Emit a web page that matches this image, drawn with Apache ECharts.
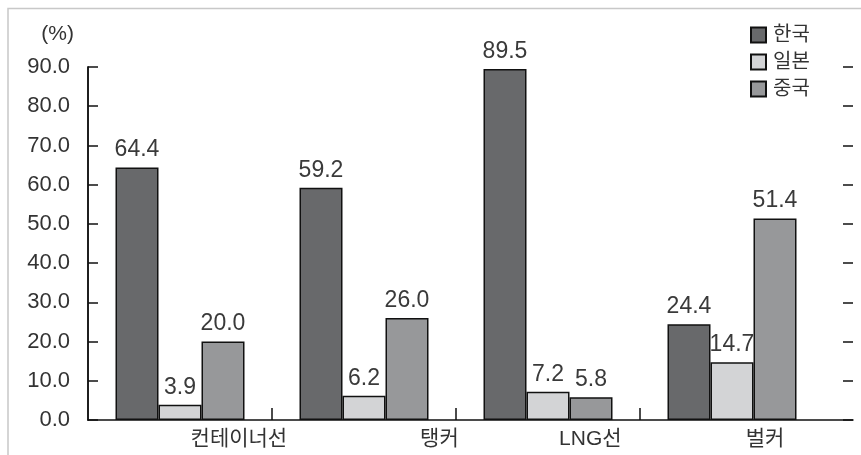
<!DOCTYPE html>
<html>
<head>
<meta charset="utf-8">
<script src="https://cdn.jsdelivr.net/npm/echarts@6/dist/echarts.min.js"></script>
<style>
  html, body { margin: 0; padding: 0; background: #fff; }
  #chart { width: 861px; height: 455px; }
</style>
</head>
<body>
<div id="chart"></div>
<script>
// 선종별 점유율 (%)
var categories = ["컨테이너선", "탱커", "LNG선", "벌커"];
var korea = [64.4, 59.2, 89.5, 24.4];
var japan = [3.9, 6.2, 7.2, 14.7];
var china = [20.0, 26.0, 5.8, 51.4];
var seriesNames = ["한국", "일본", "중국"];

// layout: category names sit right of the group centre (in category widths)
var labelShift = [0.32, 0.41, 0.23, 0.18];
var CAT_W = 184;                 // px per category
var AXIS_W = 853 - 88;           // baseline length incl. the strip on the right

var FONT = "'Liberation Sans', 'Noto Sans CJK KR', sans-serif";
var axisBlack = { color: "#111", width: 1.5 };

function barSeries(name, data, color) {
  return {
    name: name,
    type: "bar",
    xAxisIndex: 0,
    yAxisIndex: 0,
    barWidth: 43,
    barGap: "0%",
    data: data,
    itemStyle: {
      color: color,
      borderColor: "#111",
      borderWidth: 1.5
    },
    label: {
      show: true,
      position: "top",
      distance: 6,
      color: "#3a3a3a",
      fontSize: 23,
      fontFamily: FONT,
      formatter: function(p) {
        return p.value.toFixed(1);
      }
    }
  };
}

var labelPos = categories.map(function(c, i) {
  return i + 0.5 + labelShift[i];
});

// short y-ticks pointing into the plot, drawn as split lines of a 10px wide grid
function tickAxis(grid) {
  return {
    type: "value",
    gridIndex: grid,
    min: 0,
    max: 90,
    interval: 10,
    axisLine: { show: false },
    axisTick: { show: false },
    axisLabel: { show: false },
    splitLine: { show: true, lineStyle: axisBlack }
  };
}
function hiddenX(grid) {
  return { type: "value", gridIndex: grid, show: false, min: 0, max: 1 };
}

var chart = echarts.init(document.getElementById("chart"));
chart.setOption({
  backgroundColor: "#fff",
  animation: false,
  textStyle: { fontFamily: FONT },
  graphic: [
    {
      type: "polyline",
      shape: { points: [[8, 455], [8, 8.5], [861, 8.5]] },
      style: { stroke: "#c8c8c8", lineWidth: 1.5, fill: null }
    }
  ],
  legend: {
    orient: "vertical",
    left: 745,
    top: 20,
    icon: "rect",
    itemWidth: 15,
    itemHeight: 15,
    itemGap: 7,
    textStyle: { fontSize: 20, color: "#333", padding: [0, 0, 0, 2] },
    data: seriesNames
  },
  grid: [
    { left: 88, right: 37, top: 67, bottom: 35 },
    { left: 88, right: 8, top: 67, bottom: 35 },
    { left: 88, right: 763, top: 67, bottom: 35 },
    { left: 843, right: 8, top: 67, bottom: 35 }
  ],
  xAxis: [
    {
      type: "category",
      gridIndex: 0,
      data: categories,
      axisLine: { show: false },
      axisTick: { show: false },
      axisLabel: { show: false }
    },
    {
      type: "value",
      gridIndex: 1,
      min: 0,
      max: AXIS_W / CAT_W,
      axisLine: { show: true, lineStyle: axisBlack },
      axisTick: {
        show: true,
        length: -12,
        customValues: [1, 2, 3],
        lineStyle: axisBlack
      },
      axisLabel: {
        show: true,
        customValues: labelPos,
        margin: 9,
        fontSize: 21,
        color: "#333",
        formatter: function(v) {
          var i = labelPos.indexOf(v);
          return i < 0 ? "" : categories[i];
        }
      },
      splitLine: { show: false }
    },
    hiddenX(2),
    hiddenX(3)
  ],
  yAxis: [
    {
      type: "value",
      gridIndex: 0,
      min: 0,
      max: 90,
      interval: 10,
      name: "(%)",
      nameLocation: "end",
      nameGap: 22,
      nameTextStyle: { color: "#333", fontSize: 21, align: "right", padding: [0, 14, 0, 0] },
      axisLine: { show: true, lineStyle: axisBlack },
      axisTick: { show: false },
      axisLabel: {
        color: "#333",
        fontSize: 22,
        margin: 18,
        formatter: function(v) { return v.toFixed(1); }
      },
      splitLine: { show: false }
    },
    {
      type: "value",
      gridIndex: 1,
      position: "right",
      min: 0,
      max: 90,
      interval: 10,
      axisLine: { show: true, lineStyle: axisBlack },
      axisTick: { show: false },
      axisLabel: { show: false },
      splitLine: { show: false }
    },
    tickAxis(2),
    tickAxis(3)
  ],
  series: [
    barSeries(seriesNames[0], korea, "#68696b"),
    barSeries(seriesNames[1], japan, "#d3d4d6"),
    barSeries(seriesNames[2], china, "#97989a")
  ]
});
</script>
</body>
</html>
